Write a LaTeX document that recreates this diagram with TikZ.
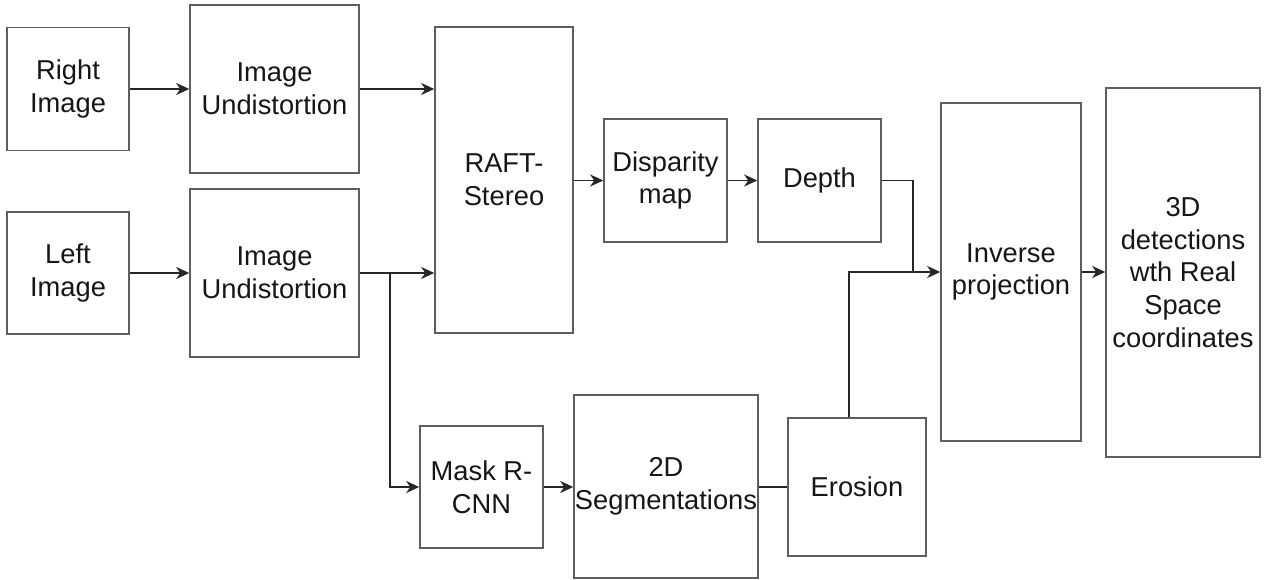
\documentclass[tikz,border=0pt]{standalone}
\usepackage{fontspec}
\setmainfont{Liberation Sans}
\usetikzlibrary{arrows.meta,calc}
\definecolor{boxgray}{HTML}{5E5E5E}
\definecolor{linegray}{HTML}{262626}
\definecolor{labelink}{HTML}{161616}
\begin{document}
\begin{tikzpicture}[x=1pt,y=-1pt,
  box/.style={draw=boxgray,line width=1.6pt,fill=white,inner sep=0pt,
    align=center,text=labelink,font=\fontsize{27.3}{32.8}\selectfont},
  flow/.style={draw=linegray,line width=1.7pt},
  arrowed/.style={flow,-{Stealth[length=13pt,width=12pt,inset=4pt]}}]
  \useasboundingbox (0,0) rectangle (1269,580);

  % inputs and undistortion
  \node[box,minimum width=122pt,minimum height=123pt] (rimg) at (68,89) {Right\\Image};
  \node[box,minimum width=169pt,minimum height=168pt] (rund) at (274.5,89) {Image\\Undistortion};
  \node[box,minimum width=122pt,minimum height=122pt] (limg) at (68,273) {Left\\Image};
  \node[box,minimum width=169pt,minimum height=168pt] (lund) at (274.5,273) {Image\\Undistortion};

  % stereo branch
  \node[box,minimum width=138pt,minimum height=306pt] (raft) at (504,180) {RAFT-\\Stereo};
  \node[box,minimum width=123pt,minimum height=123pt] (disp) at (665.5,180.5) {Disparity\\map};
  \node[box,minimum width=123pt,minimum height=123pt] (depth) at (819.5,180.5) {Depth};

  % segmentation branch
  \node[box,minimum width=123pt,minimum height=122pt] (mask) at (481.5,487) {Mask R-\\CNN};
  \node[box,minimum width=184pt,minimum height=183pt] (seg) at (666,486.5) {2D\\Segmentations};
  \node[box,minimum width=138pt,minimum height=138pt] (ero) at (857,487) {Erosion};

  % fusion and output
  \node[box,minimum width=140pt,minimum height=338pt] (inv) at (1011,272) {Inverse\\projection};
  \node[box,minimum width=154pt,minimum height=369pt] (det) at (1183,272.5) {3D\\detections\\wth Real\\Space\\coordinates};

  % connectors
  \draw[arrowed] (rimg.east) -- (rimg.east -| rund.west);
  \draw[arrowed] (limg.east) -- (limg.east -| lund.west);
  \draw[arrowed] (rund.east) -- (rund.east -| raft.west);
  \draw[arrowed] (lund.east) -- (lund.east -| raft.west);
  \coordinate (split) at ($(lund.east)+(30,0)$);
  \draw[arrowed] (split) |- (mask.west);
  \draw[arrowed] (raft.east |- disp.west) -- (disp.west);
  \draw[arrowed] (disp.east) -- (depth.west);
  \draw[arrowed] (mask.east) -- (mask.east -| seg.west);
  \draw[flow] (seg.east |- ero.west) -- (ero.west);
  \coordinate (merge) at ($(depth.east |- inv.west)+(31,0)$);
  \draw[flow] (depth.east) -| (merge);
  \coordinate (erotop) at ($(ero.north west)!0.443!(ero.north east)$);
  \draw[flow] (erotop) |- (merge);
  \draw[arrowed] (merge) -- (inv.west);
  \draw[arrowed] (inv.east) -- (inv.east -| det.west);
\end{tikzpicture}
\end{document}
